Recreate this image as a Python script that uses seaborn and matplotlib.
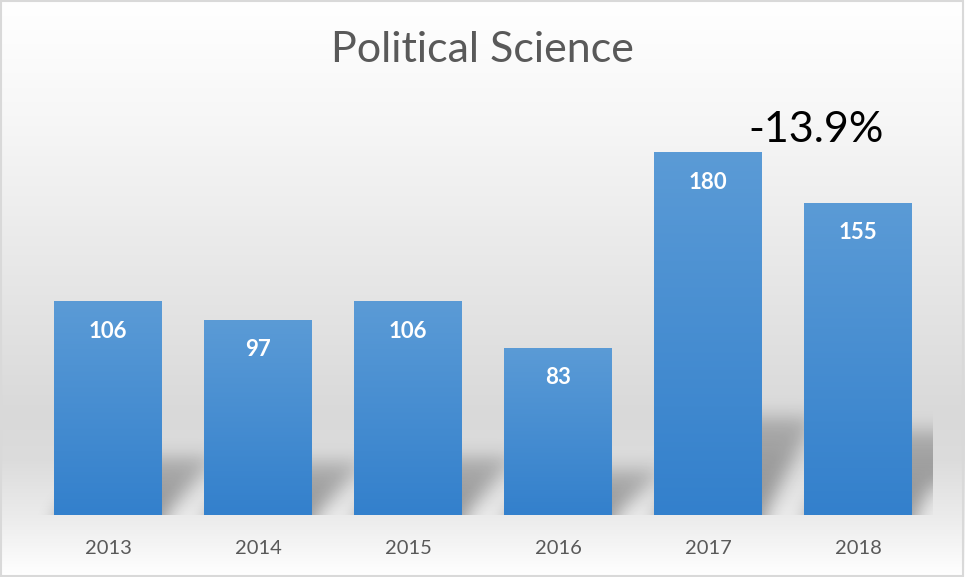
import numpy as np
import pandas as pd
import matplotlib
matplotlib.use("Agg")
import matplotlib.pyplot as plt
import seaborn as sns
from matplotlib.colors import LinearSegmentedColormap
from matplotlib.patches import Rectangle

years = ["2013", "2014", "2015", "2016", "2017", "2018"]
counts = [106, 97, 106, 83, 180, 155]
title = "Political Science"

sns.set_theme(style="white")
plt.rcParams['font.family'] = ['Lato', 'DejaVu Sans']

df = pd.DataFrame({"year": years, "count": counts})

fig = plt.figure(figsize=(9.65, 5.77), dpi=100)

# background gradient
bg = fig.add_axes([0, 0, 1, 1], zorder=-10)
bg_cmap = LinearSegmentedColormap.from_list(
    "bg", [(0.0, "#ffffff"), (0.2, "#f7f7f7"), (0.72, "#d9d9d9"),
           (0.8, "#dcdcdc"), (0.9, "#ececec"), (1.0, "#ffffff")])
grad = np.linspace(0, 1, 256).reshape(-1, 1)
bg.imshow(grad, aspect="auto", cmap=bg_cmap, extent=[0, 1, 0, 1], origin="upper")
bg.add_patch(Rectangle((0.001, 0.001), 0.997, 0.997, fill=False,
                       edgecolor="#d9d9d9", linewidth=1.5, transform=bg.transAxes))
bg.set_axis_off()

ax = fig.add_axes([33 / 965, 1 - 515 / 577, 900 / 965, 403 / 577])
ax.patch.set_alpha(0)
sns.barplot(data=df, x="year", y="count", color="#5b9bd5", width=0.72,
            saturation=1, ax=ax, zorder=3, edgecolor="none", linewidth=0)
XMIN, XMAX, YMIN, YMAX = -0.5, 5.5, 0, 200
ax.set_xlim(XMIN, XMAX)
ax.set_ylim(YMIN, YMAX)
for s in ax.spines.values():
    s.set_visible(False)
ax.set_yticks([])
ax.set_xlabel("")
ax.set_ylabel("")
ax.tick_params(axis="x", length=0, pad=18, labelsize=14.5, labelcolor="#595959")

# blurred perspective shadows computed from the bars
NX, NY = 900, 403
xs = np.linspace(XMIN, XMAX, NX)
ys = np.linspace(YMIN, YMAX, NY)
XX, YY = np.meshgrid(xs, ys)
mask = np.zeros((NY, NX))
for p in ax.patches:
    x0, w, h = p.get_x(), p.get_width(), p.get_height()
    sh = 0.27 * h
    skew = 0.34
    off = skew * np.clip(YY / sh, 0, 1)
    inside = (YY <= sh) & (XX >= x0 + 0.02 + off) & (XX <= x0 + w + 0.02 + off)
    mask = np.maximum(mask, inside * (1 - 0.45 * YY / sh))

def gauss_blur(a, sigma):
    r = int(3 * sigma)
    k = np.exp(-0.5 * (np.arange(-r, r + 1) / sigma) ** 2)
    k /= k.sum()
    pad = np.pad(a, r, mode="edge")
    pad = np.apply_along_axis(lambda m: np.convolve(m, k, mode="same"), 1, pad)
    pad = np.apply_along_axis(lambda m: np.convolve(m, k, mode="same"), 0, pad)
    return pad[r:-r, r:-r]

mask = gauss_blur(mask, 9)
shadow = np.zeros((NY, NX, 4))
shadow[..., 3] = 0.38 * mask
ax.imshow(shadow, extent=[XMIN, XMAX, YMIN, YMAX], origin="lower",
          aspect="auto", zorder=1, interpolation="bilinear")

bar_cmap = LinearSegmentedColormap.from_list("bar", ["#5b9bd6", "#3380cc"])
for p in ax.patches:
    x0, w, h = p.get_x(), p.get_width(), p.get_height()
    im = ax.imshow(grad, aspect="auto", cmap=bar_cmap, extent=[x0, x0 + w, 0, h],
                   origin="upper", zorder=4)
    im.set_clip_path(p)
    p.set_facecolor("none")
    ax.text(x0 + w / 2, h - 15, f"{int(round(h))}", ha="center", va="center",
            color="white", fontsize=16, fontweight="bold", zorder=5)

ax.set_xlim(XMIN, XMAX)
ax.set_ylim(YMIN, YMAX)
ax.set_aspect("auto")

change = (counts[-1] - counts[-2]) / counts[-2] * 100
ax.text(4.72, 191, f"{change:.1f}%", ha="center", va="center",
        color="black", fontsize=31, zorder=5)

fig.text(0.5, 1 - 50 / 577, title, ha="center", va="center",
         fontsize=31, color="#595959")

fig.savefig("out.png", dpi=100)
